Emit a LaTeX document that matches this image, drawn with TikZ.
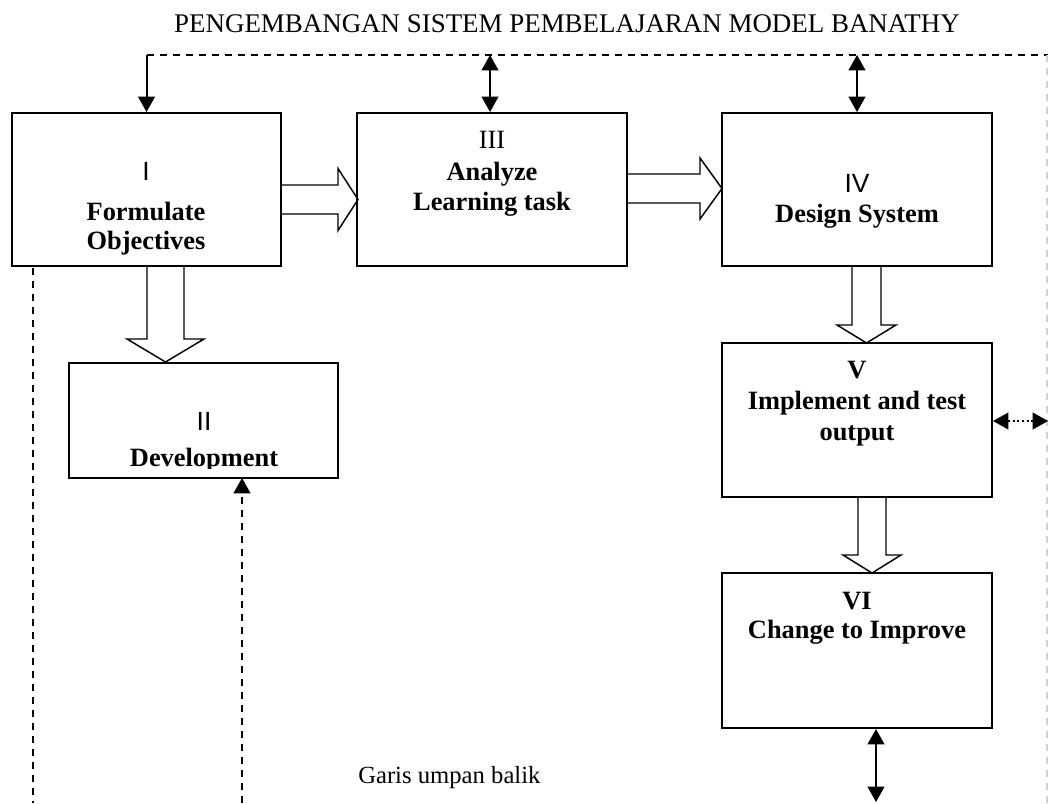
\documentclass[tikz,border=0pt]{standalone}
\usepackage{fontspec}
\setmainfont{Liberation Serif}
\newfontfamily\numsans{Liberation Sans}
\usetikzlibrary{arrows.meta,calc}

% hollow block arrows: start, tip, centre line, shaft half-width, head half-width, head length
\newcommand\hollowright[6]{%
  \draw[blockarrow] (#1,#3-#4) -- (#2-#6,#3-#4) -- (#2-#6,#3-#5) -- (#2,#3)
    -- (#2-#6,#3+#5) -- (#2-#6,#3+#4) -- (#1,#3+#4);}
\newcommand\hollowdown[6]{%
  \draw[blockarrow] (#3-#4,#1) -- (#3-#4,#2-#6) -- (#3-#5,#2-#6) -- (#3,#2)
    -- (#3+#5,#2-#6) -- (#3+#4,#2-#6) -- (#3+#4,#1);}

\begin{document}
\begin{tikzpicture}[x=0.75pt,y=-0.75pt,
  every node/.style={font=\fontsize{19.8}{23}\selectfont, inner sep=0pt},
  stagebox/.style={draw, line width=1.5pt, rectangle},
  blockarrow/.style={line width=1.1pt, line join=miter},
  head/.tip={Triangle[length=11.5pt,width=12.5pt]},
  tip/.style={line width=1.5pt, -head},
  tips/.style={line width=1.5pt, head-head},
  feedback/.style={line width=1.6pt, dash pattern=on 5.25pt off 4.5pt},
  faint/.style={line width=1.5pt, draw=black!18, dash pattern=on 5.25pt off 4.5pt},
  heading/.style={font=\fontsize{19.8}{23}\selectfont\bfseries, anchor=base},
  numeral/.style={font=\fontsize{19.8}{23}\selectfont\numsans, anchor=base}]

\useasboundingbox (0,0) rectangle (1048,803);

% title
\node[anchor=base, font=\fontsize{20.2}{23}\selectfont] (title) at (567,32) {PENGEMBANGAN SISTEM PEMBELAJARAN MODEL BANATHY};

% stage boxes
\node[stagebox, minimum width=201.75pt, minimum height=114.75pt] (b1) at (146.5,189.5) {};
\node[stagebox, minimum width=201.75pt, minimum height=86.25pt]  (b2) at (203.5,420.5) {};
\node[stagebox, minimum width=202.5pt,  minimum height=114.75pt] (b3) at (492,189.5) {};
\node[stagebox, minimum width=202.5pt,  minimum height=114.75pt] (b4) at (857,189.5) {};
\node[stagebox, minimum width=202.5pt,  minimum height=115.5pt]  (b5) at (857,420) {};
\node[stagebox, minimum width=202.5pt,  minimum height=116.25pt] (b6) at (857,650.5) {};

% box texts
\node[numeral] (n1) at (146,180) {I};
\node[heading] (t1a) at (146,220) {Formulate};
\node[heading] (t1b) at (146,249) {Objectives};

\node[numeral] (n2) at (204,430) {II};
\begin{scope}
  \clip (69,363) rectangle (338,468.5);
  \node[heading] (t2) at (204,466.5) {Development};
\end{scope}

\node[anchor=base] (n3) at (492,148) {III};
\node[heading] (t3a) at (492,180) {Analyze};
\node[heading] (t3b) at (492,210) {Learning task};

\node[numeral] (n4) at (857,192) {IV};
\node[heading] (t4) at (857,222) {Design System};

\node[heading] (n5) at (857,378) {V};
\node[heading] (t5a) at (857,409) {Implement and test};
\node[heading] (t5b) at (857,440) {output};

\node[heading] (n6) at (857,609) {VI};
\node[heading] (t6) at (857,638) {Change to Improve};

\node[anchor=base west, font=\fontsize{18.5}{22}\selectfont] (fb) at (358,783) {Garis umpan balik};

% flow between stages
\hollowright{281}{358}{199.5}{14.5}{31}{20}
\hollowright{627}{722}{188.5}{14.5}{30.5}{22}
\hollowdown{266}{362}{165.5}{18.5}{38.5}{23}
\hollowdown{267}{343}{866.5}{14.5}{29.5}{18}
\hollowdown{497}{573}{872}{14}{29}{18}

% feedback lines
\coordinate (topL) at (146.5,55);
\coordinate (topR) at (1048,55);
\coordinate (rb) at (1046.5,803);
\coordinate (lb) at (33,803);
\coordinate (lt) at (33,268);
\coordinate (mb) at (242,803);
\coordinate (vout) at (1048,421);
\coordinate (vin) at (993,421);
\coordinate (bot) at (876,802);
\coordinate (t3) at (490,55);

\draw[feedback] (topL) -- (topR);
\draw[faint] (1046.5,55) -- (rb);
\draw[tip] (topL) -- (b1.north);
\draw[tips] (t3) -- (t3 |- b3.north);
\draw[tips] (b4.north |- topL) -- (b4.north);
\draw[feedback] (lt) -- (lb);
\draw[feedback, -head] (mb) -- (242,478);
\draw[tips] (bot |- b6.south) -- (bot);
\draw[line width=1.5pt, dotted, head-head] (vin) -- (vout);

\end{tikzpicture}
\end{document}
